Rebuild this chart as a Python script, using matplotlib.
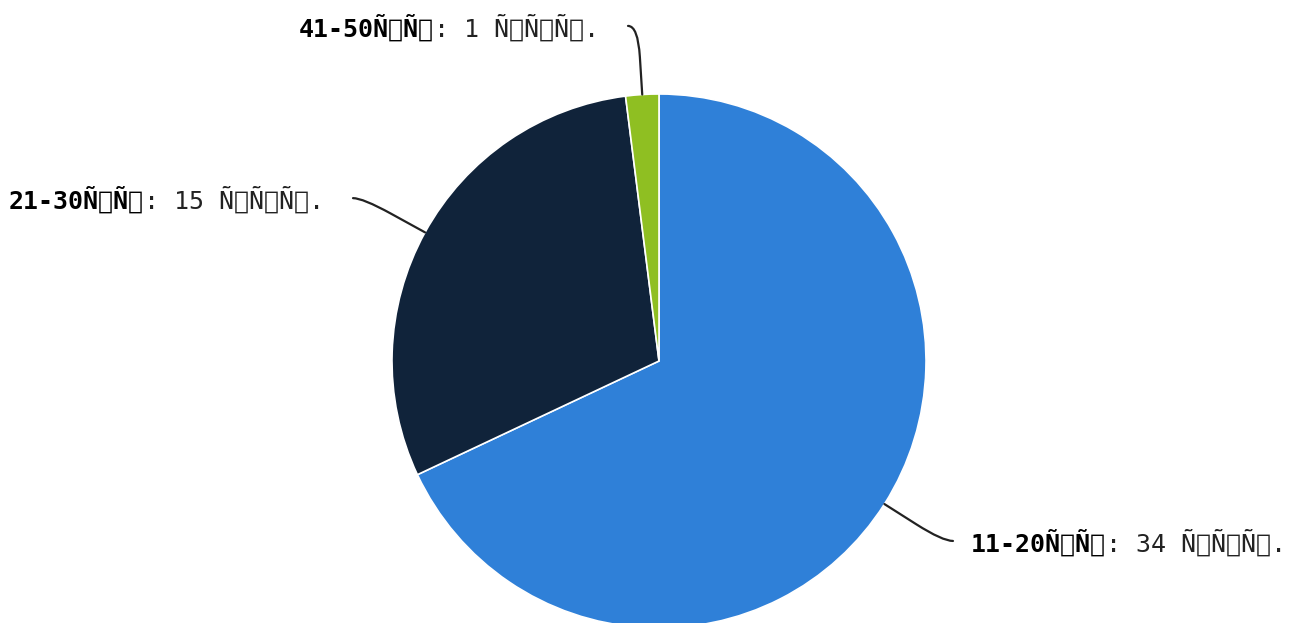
import matplotlib.pyplot as plt
from matplotlib.path import Path
from matplotlib.patches import PathPatch
import numpy as np

# data
categories = ["11-20Ñ\x82Ñ\x8b", "21-30Ñ\x82Ñ\x8b", "41-50Ñ\x82Ñ\x8b"]
values = [34, 15, 1]
unit = "Ñ\x82Ñ\x8bÑ\x81."
colors = ["#2f80d8", "#10233a", "#8fbf22"]

plt.rcParams['font.family'] = ['DejaVu Sans Mono']

fig = plt.figure(figsize=(12.96, 6.23), dpi=100)
ax = fig.add_axes([0, 0, 1, 1])

r = 267.0
cx, cy = 659.0, 361.0
W, H = 1296, 623

wedges, _ = ax.pie(values, colors=colors, startangle=90, counterclock=False,
                   radius=1.0, wedgeprops=dict(edgecolor="white", linewidth=1.2))

ax.set_xlim(-cx / r, (W - cx) / r)
ax.set_ylim(-(H - cy) / r, cy / r)
ax.set_aspect('equal')
ax.axis('off')

# connector ends (in radius units)
ends = [(1.101, -0.674), (-1.146, 0.610), (-0.116, 1.255)]
gap_r = 18 / r
gap_l = 29 / r
dy = -2 / r

for w, (ex, ey), cat, v in zip(wedges, ends, categories, values):
    ang = np.deg2rad((w.theta1 + w.theta2) / 2)
    sx, sy = np.cos(ang), np.sin(ang)
    # corner where radial line meets horizontal through end
    t = ey / np.sin(ang)
    kx, ky = t * np.cos(ang), t * np.sin(ang)
    mx, my = sx + 0.55 * (kx - sx), sy + 0.55 * (ky - sy)
    verts = [(sx, sy), (mx, my), (kx, ky), (ex, ey)]
    codes = [Path.MOVETO, Path.LINETO, Path.CURVE3, Path.CURVE3]
    ax.add_patch(PathPatch(Path(verts, codes), fill=False, edgecolor="#222222",
                           linewidth=1.6, capstyle='round'))

    rest = f": {v} {unit}"
    if ex > 0:
        t1 = ax.text(ex + gap_r, ey + dy, cat, fontsize=18, fontweight='bold',
                     ha='left', va='center', color='black')
        ax.annotate(rest, xy=(1, 0.5), xycoords=t1, fontsize=18,
                    ha='left', va='center', color='#222222')
    else:
        t2 = ax.text(ex - gap_l, ey + dy, rest, fontsize=18,
                     ha='right', va='center', color='#222222')
        ax.annotate(cat, xy=(0, 0.5), xycoords=t2, fontsize=18, fontweight='bold',
                    ha='right', va='center', color='black')

plt.savefig("out.png", dpi=100)
